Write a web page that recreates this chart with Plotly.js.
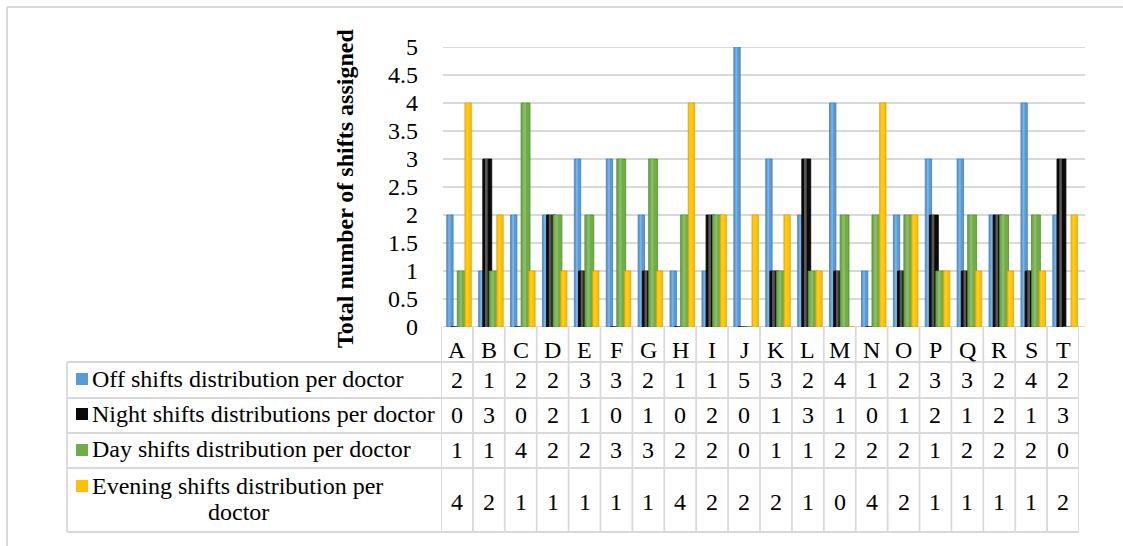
<!DOCTYPE html>
<html>
<head>
<meta charset="utf-8">
<script src="https://cdn.plot.ly/plotly-3.0.1.min.js"></script>
<style>
  html, body { margin: 0; padding: 0; background: #ffffff; }
  #chart { width: 1123px; height: 546px; }
</style>
</head>
<body>
<div id="chart"></div>
<script>
// Doctors (columns of the chart and of the data table)
const doctors = ['A','B','C','D','E','F','G','H','I','J','K','L','M','N','O','P','Q','R','S','T'];

// Shift counts per doctor
const offShifts     = [2,1,2,2,3,3,2,1,1,5,3,2,4,1,2,3,3,2,4,2];
const nightShifts   = [0,3,0,2,1,0,1,0,2,0,1,3,1,0,1,2,1,2,1,3];
const dayShifts     = [1,1,4,2,2,3,3,2,2,0,1,1,2,2,2,1,2,2,2,0];
const eveningShifts = [4,2,1,1,1,1,1,4,2,2,2,1,0,4,2,1,1,1,1,2];

// Series names shown in the table's legend column
const seriesNames = [
  'Off shifts distribution per doctor',
  'Night shifts distributions per doctor',
  'Day shifts distribution per doctor',
  'Evening shifts distribution per doctor'
];

// Y axis ticks
const yTicks = [0,0.5,1,1.5,2,2.5,3,3.5,4,4.5,5];
const yTickText = ['0','0.5','1','1.5','2','2.5','3','3.5','4','4.5','5'];

const yTitle = 'Total number of shifts assigned';

// ---- page geometry (pixels) ----
const W = 1123, H = 546;
const PL = 441, PR = 1079, PT = 47, PB = 327;
const px = v => (v - PL) / (PR - PL);        // pixel x -> paper x
const py = v => (PB - v) / (PB - PT);        // pixel y -> paper y

const FONT = 'Liberation Serif, Times New Roman, serif';
const GRID = '#d9d9d9';

const colors = ['#5B9BD5', '#0a0a0a', '#70AD47', '#FFC000'];
const edges  = ['#3F7EB8', '#000000', '#548A33', '#D9A300'];
const shine  = ['rgba(255,255,255,0.22)', 'rgba(150,150,150,0.55)', 'rgba(255,255,255,0.18)', 'rgba(255,255,255,0.18)'];
const seriesValues = [offShifts, nightShifts, dayShifts, eveningShifts];
const barWidths  = [0.20, 0.28, 0.28, 0.20];
const barOffsets = [-0.32, -0.19, 0.01, 0.25];

const traces = [];
seriesValues.forEach((vals, i) => {
  traces.push({
    type: 'bar',
    name: seriesNames[i],
    x: doctors.map((_, k) => k),
    y: vals,
    width: barWidths[i],
    offset: barOffsets[i],
    marker: { color: colors[i], line: { color: edges[i], width: 0.8 } },
    hoverinfo: 'skip',
    showlegend: false
  });
  // soft highlight stripe giving the columns a rounded look
  traces.push({
    type: 'bar',
    x: doctors.map((_, k) => k),
    y: vals,
    width: barWidths[i] * 0.3,
    offset: barOffsets[i] + barWidths[i] * 0.25,
    marker: { color: shine[i], line: { width: 0 } },
    hoverinfo: 'skip',
    showlegend: false
  });
});

const shapes = [];
const annotations = [];

// outer frame (left and top edges)
shapes.push({ type: 'line', xref: 'paper', yref: 'paper',
  x0: px(7), x1: px(7), y0: py(7), y1: py(H + 2), line: { color: GRID, width: 2 } });
shapes.push({ type: 'line', xref: 'paper', yref: 'paper',
  x0: px(7), x1: px(W + 2), y0: py(7), y1: py(7), line: { color: GRID, width: 2 } });

// horizontal gridlines at each tick value
yTicks.forEach(t => {
  shapes.push({ type: 'line', layer: 'below', xref: 'paper', yref: 'y',
    x0: px(443), x1: px(1085), y0: t, y1: t, line: { color: GRID, width: 1.8 } });
});

// data table: row boundaries (pixels)
const tableTop = PB, headerBottom = 362;
const rowEdges = [362, 398, 433, 468, 532];
const legendLeft = 67;

rowEdges.forEach(yy => {
  shapes.push({ type: 'line', xref: 'paper', yref: 'paper',
    x0: px(legendLeft), x1: px(PR), y0: py(yy), y1: py(yy), line: { color: GRID, width: 1.8 } });
});
// legend column left edge
shapes.push({ type: 'line', xref: 'paper', yref: 'paper',
  x0: px(legendLeft), x1: px(legendLeft), y0: py(headerBottom), y1: py(532), line: { color: GRID, width: 1.8 } });
// column separators on category boundaries
for (let k = 0; k <= doctors.length; k++) {
  shapes.push({ type: 'line', xref: 'x', yref: 'paper',
    x0: k - 0.5, x1: k - 0.5, y0: py(tableTop), y1: py(532), line: { color: GRID, width: 1.8 } });
}

// header row: doctor letters
doctors.forEach((d, k) => {
  annotations.push({ xref: 'x', yref: 'paper', x: k, y: py(350), text: d,
    showarrow: false, xanchor: 'center', yanchor: 'middle', font: { family: FONT, size: 24, color: '#000' } });
});

// value rows
const rowCenters = [380, 415, 450, 502];
seriesValues.forEach((vals, i) => {
  vals.forEach((v, k) => {
    annotations.push({ xref: 'x', yref: 'paper', x: k, y: py(rowCenters[i]), text: String(v),
      showarrow: false, xanchor: 'center', yanchor: 'middle', font: { family: FONT, size: 24, color: '#000' } });
  });
});

// legend keys
const keyTops = [373, 408, 444, 480];
keyTops.forEach((t, i) => {
  shapes.push({ type: 'rect', xref: 'paper', yref: 'paper',
    x0: px(76), x1: px(88), y0: py(t), y1: py(t + 12), fillcolor: colors[i], line: { width: 0 } });
});
// legend labels
const labelCenters = [379, 414, 449];
for (let i = 0; i < 3; i++) {
  annotations.push({ xref: 'paper', yref: 'paper', x: px(90), y: py(labelCenters[i]), text: seriesNames[i],
    showarrow: false, xanchor: 'left', yanchor: 'middle', font: { family: FONT, size: 24, color: '#000' } });
}
// last label wraps onto two lines
const lastWords = seriesNames[3].split(' ');
annotations.push({ xref: 'paper', yref: 'paper', x: px(90), y: py(486), text: lastWords.slice(0, -1).join(' '),
  showarrow: false, xanchor: 'left', yanchor: 'middle', font: { family: FONT, size: 24, color: '#000' } });
annotations.push({ xref: 'paper', yref: 'paper', x: px(238), y: py(512), text: lastWords[lastWords.length - 1],
  showarrow: false, xanchor: 'center', yanchor: 'middle', font: { family: FONT, size: 24, color: '#000' } });

// vertical axis title
annotations.push({ xref: 'paper', yref: 'paper', x: px(345), y: py(189), text: '<b>' + yTitle + '</b>',
  textangle: -90, showarrow: false, xanchor: 'center', yanchor: 'middle',
  font: { family: FONT, size: 24, color: '#000' } });

const layout = {
  width: W, height: H,
  margin: { l: PL, r: W - PR, t: PT, b: H - PB, pad: 0 },
  paper_bgcolor: '#ffffff', plot_bgcolor: '#ffffff',
  barmode: 'overlay',
  xaxis: { range: [-0.5, doctors.length - 0.5], showticklabels: false, showgrid: false,
    zeroline: false, showline: false, ticks: '', fixedrange: true },
  yaxis: { range: [0, 5], tickvals: yTicks, ticktext: yTickText, showgrid: false, zeroline: false,
    showline: false, ticks: '', ticklabelstandoff: 22,
    tickfont: { family: FONT, size: 24, color: '#000' }, fixedrange: true },
  shapes: shapes,
  annotations: annotations,
  font: { family: FONT }
};

Plotly.newPlot('chart', traces, layout, { displayModeBar: false, staticPlot: true });
</script>
</body>
</html>
